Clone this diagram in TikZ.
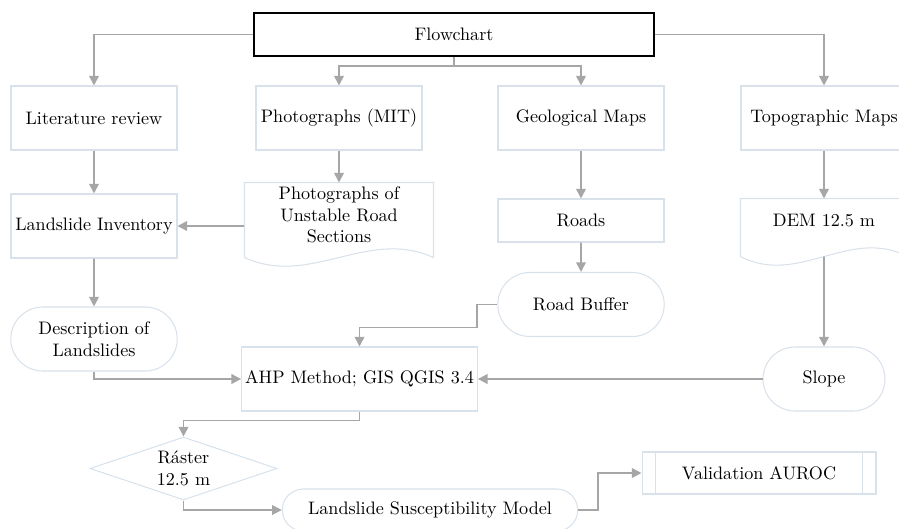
\documentclass[tikz,border=0pt]{standalone}
\usepackage{xcolor}
\usepackage{tikz}
\usetikzlibrary{arrows.meta,positioning,calc,shapes.misc,shapes.geometric}
\definecolor{boxLine}{HTML}{D9E1EB}
\definecolor{linkGray}{HTML}{A6A6A6}

\begin{document}
\begin{tikzpicture}[x=0.02cm,y=-0.02cm,font=\fontsize{10.3}{12.4}\selectfont,
  box/.style={draw=boxLine,line width=0.6pt,minimum width=3.32cm,minimum height=1.28cm,inner sep=2pt,align=center},
  lowbox/.style={box,minimum height=0.86cm},
  pill/.style={rounded rectangle,draw=boxLine,line width=0.6pt,minimum width=3.47cm,minimum height=1.28cm,inner sep=2pt,align=center},
  wave/.style={draw=boxLine,line width=0.6pt},
  link/.style={draw=linkGray,line width=1pt,-{Triangle[width=5.5pt,length=5.5pt]}}]
% picture is cut at the page edge, as in the source
\clip (0,0) rectangle (899,528);
\def\wamp{30}
% top
\node[box,draw=black,line width=1pt,minimum width=8cm,minimum height=0.86cm] (flow) at (454,34.5) {Flowchart};
\node[box] (lit) at (94,118) {Literature review};
\node[box] (photo) at (339,118) {Photographs (MIT)};
\node[box] (geo) at (581,118) {Geological Maps};
\node[box] (topo) at (824,118) {Topographic Maps};
% second row
\node[box] (inv) at (94,226) {Landslide Inventory};
\node[box,draw=none,minimum width=3.76cm] (photodoc) at (339,215) {Photographs of\\Unstable Road\\Sections};
\draw[wave] (photodoc.north west) -- ($(photodoc.south west)+(0,10)$)
  .. controls ($(photodoc.south west)+(66,10+\wamp)$) and ($(photodoc.south east)+(-66,10-\wamp)$) .. ($(photodoc.south east)+(0,10)$)
  -- (photodoc.north east) -- cycle;
\node[lowbox] (roads) at (581,220.5) {Roads};
\node[lowbox,draw=none] (dem) at (824,220.5) {DEM 12.5 m};
\draw[wave] (dem.north west) -- ($(dem.south west)+(0,14)$)
  .. controls ($(dem.south west)+(58,14+\wamp)$) and ($(dem.south east)+(-58,14-\wamp)$) .. ($(dem.south east)+(0,14)$)
  -- (dem.north east) -- cycle;
\coordinate (demwave) at ($(dem.south)+(0,14)$);
% third row
\node[pill] (buffer) at (581,304.5) {Road Buffer};
\node[pill] (desc) at (94,339) {Description of\\Landslides};
\node[pill,minimum width=2.58cm] (slope) at (824,379) {Slope};
\node[box,minimum width=4.7cm] (ahp) at (359.5,379) {AHP Method; GIS QGIS 3.4};
% bottom
\node[diamond,draw=boxLine,line width=0.6pt,aspect=3,inner sep=0pt,minimum width=3.74cm,minimum height=1.26cm,align=center] (raster) at (183.5,468.5) {Ráster\\12.5 m};
\node[pill,minimum width=6.05cm,minimum height=0.84cm] (lsm) at (430,510) {Landslide Susceptibility Model};
\node[box,minimum width=4.68cm,minimum height=0.84cm] (val) at (759,473) {Validation AUROC};
\draw[wave] ($(val.north west)+(14,0)$) -- ($(val.south west)+(14,0)$)
  ($(val.north east)+(-14,0)$) -- ($(val.south east)+(-14,0)$);
% links
\coordinate (split) at ($(flow.south)+(0,9)$);
\draw[link] (flow.west) -| (lit.north);
\draw[link] (flow.east) -| (topo.north);
\draw[link] (flow.south) -- (split) -| (photo.north);
\draw[link] (split) -| (geo.north);
\draw[link] (lit) -- (inv);
\draw[link] (photo) -- (photodoc);
\draw[link] (photodoc.west |- inv) -- (inv);
\draw[link] (geo) -- (roads);
\draw[link] (roads) -- (buffer);
\draw[link] (topo) -- (dem);
\draw[link] (demwave) -- (slope);
\draw[link] (inv) -- (desc);
\draw[link] (buffer.west) -- ++(-20,0) |- ($(ahp.north)+(0,-19)$) -- (ahp.north);
\draw[link] (desc.south) |- (ahp.west);
\draw[link] (slope) -- (ahp);
\draw[link] (ahp.south) -- ++(0,9) -| (raster.north);
\draw[link] (raster.south) |- (lsm.west);
\draw[link] (lsm.east) -- ++(20,0) |- (val.west);
\end{tikzpicture}
\end{document}
